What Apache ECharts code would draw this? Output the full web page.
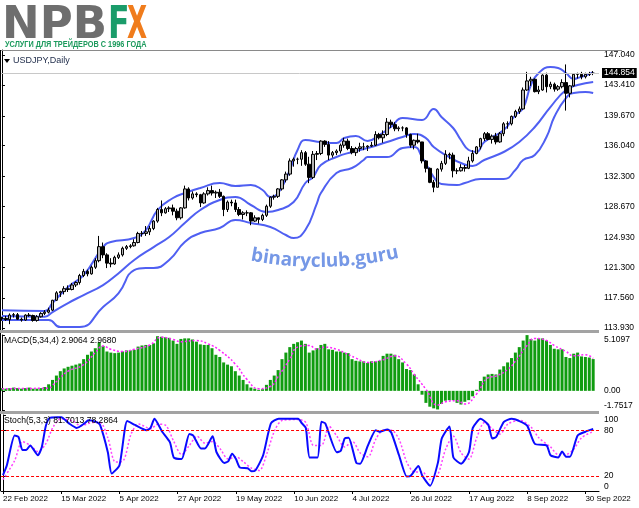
<!DOCTYPE html>
<html><head><meta charset="utf-8">
<script src="https://cdn.jsdelivr.net/npm/echarts@6/dist/echarts.min.js"></script>
<style>html,body{margin:0;padding:0;background:#fff}#c{width:639px;height:508px}</style>
</head><body><div id="c"></div>
<script>
// ---- tick labels ----
const priceTicks = [147.04, 143.41, 139.67, 136.04, 132.30, 128.67, 124.93, 121.30, 117.56, 113.93];
const macdTicks = [5.1097, 0, -1.7517];
const macdTickText = ['5.1097', '0.00', '-1.7517'];
const stochTicks = [100, 80, 20, 0];
const dateIdx = [0, 15, 30, 45, 60, 75, 90, 105, 120, 135, 150];
const dateText = ['22 Feb 2022', '15 Mar 2022', '5 Apr 2022', '27 Apr 2022', '19 May 2022', '10 Jun 2022',
  '4 Jul 2022', '26 Jul 2022', '17 Aug 2022', '8 Sep 2022', '30 Sep 2022'];
const barCount = 154; // 153 bars + right shift slot
const lastPrice = 144.854;
const macdLabel = 'MACD(5,34,4) 2.9064 2.9680';
const stochLabel = 'Stoch(5,3,3) 81.7013 78.2864';
const watermark = 'binaryclub.guru';

// ---- candles: [open, close, low, high] ----
const ohlc = [
[115.05,115.10,114.80,115.30],[115.10,114.95,114.80,115.40],[114.95,115.50,114.40,115.70],[115.50,115.55,115.20,115.75],
[115.55,115.00,114.90,115.75],[115.00,114.90,114.70,115.20],[114.90,115.50,114.80,115.60],[115.50,115.45,115.30,115.75],
[115.45,114.85,114.70,115.55],[114.85,115.30,114.70,115.50],[115.30,115.70,115.20,115.85],[115.70,115.85,115.50,116.10],
[115.85,116.10,115.70,116.40],[116.10,117.30,116.00,117.35],[117.30,118.20,117.20,118.40],[118.20,118.35,117.70,118.45],
[118.35,118.70,118.00,119.00],[118.70,118.60,118.30,119.10],[118.60,119.15,118.50,119.40],[119.15,119.45,118.90,119.60],
[119.45,120.30,119.20,120.50],[120.30,120.80,120.10,121.10],[120.80,120.50,120.20,121.00],[120.50,121.30,120.40,121.50],
[121.30,122.10,121.10,122.40],[122.10,123.80,121.90,125.10],[123.80,122.80,122.40,124.30],[122.80,121.80,121.20,123.00],
[121.80,121.70,121.30,122.40],[121.70,122.50,121.60,122.70],[122.50,122.80,122.30,123.10],[122.80,123.60,122.60,123.80],
[123.60,123.80,123.40,124.00],[123.80,123.90,123.60,124.10],[123.90,124.30,123.80,124.70],[124.30,125.40,124.20,125.60],
[125.40,125.40,125.00,125.70],[125.40,125.60,125.10,126.30],[125.60,126.00,125.20,126.30],[126.00,126.90,125.80,127.00],
[126.90,128.30,126.70,128.50],[128.30,127.90,127.50,129.40],[127.90,128.40,127.80,128.60],[128.40,128.50,128.00,128.70],
[128.50,128.10,127.60,128.90],[128.10,127.30,127.00,128.40],[127.30,128.50,127.10,128.60],[128.50,130.80,128.40,131.20],
[130.80,129.70,129.40,131.00],[129.70,130.20,129.50,130.50],[130.20,130.10,129.80,130.40],[130.10,129.10,128.60,130.20],
[129.10,130.20,129.00,130.40],[130.20,130.60,130.00,131.00],[130.60,130.30,130.00,131.20],[130.30,130.40,129.70,130.60],
[130.40,129.90,129.70,130.80],[129.90,128.30,127.50,130.00],[128.30,129.20,128.00,129.40],[129.20,129.10,128.70,129.50],
[129.10,128.30,128.00,129.50],[128.30,127.70,127.50,128.60],[127.70,127.90,127.10,128.10],[127.90,127.90,127.50,128.20],
[127.90,126.90,126.40,128.00],[126.90,127.30,126.80,127.60],[127.30,127.10,126.60,127.30],[127.10,127.60,126.90,127.80],
[127.60,128.70,127.40,128.90],[128.70,129.80,128.50,129.90],[129.80,129.90,129.50,130.10],[129.90,130.80,129.70,130.90],
[130.80,131.90,130.60,132.00],[131.90,132.60,131.60,132.90],[132.60,134.20,132.40,134.50],[134.20,134.40,133.50,134.60],
[134.40,134.40,133.80,134.60],[134.40,135.20,133.60,135.50],[135.20,133.80,133.60,135.40],[133.80,132.20,131.50,134.70],
[132.20,135.00,132.00,135.40],[135.00,135.10,134.30,135.40],[135.10,136.60,134.90,136.70],[136.60,136.20,135.90,136.70],
[136.20,134.90,134.30,136.60],[134.90,135.20,134.60,135.40],[135.20,135.40,134.90,135.60],[135.40,136.10,135.10,136.30],
[136.10,136.60,135.80,137.00],[136.60,135.70,135.50,136.90],[135.70,135.20,135.00,136.00],[135.20,135.70,134.80,135.90],
[135.70,135.90,135.30,136.40],[135.90,135.90,135.50,136.40],[135.90,136.00,135.40,136.10],[136.00,136.10,135.90,136.50],
[136.10,137.40,136.00,137.80],[137.40,137.00,136.80,137.60],[137.00,137.40,136.40,137.90],[137.40,138.90,137.20,139.40],
[138.90,138.60,138.20,139.20],[138.60,138.10,137.80,138.90],[138.10,138.20,137.80,138.40],[138.20,138.20,137.80,138.40],
[138.20,137.40,137.00,138.30],[137.40,136.10,135.80,137.50],[136.10,136.70,135.60,136.80],[136.70,136.50,136.30,137.50],
[136.50,134.20,133.90,136.50],[134.20,133.30,132.80,134.30],[133.30,131.60,131.50,133.40],[131.60,131.00,130.40,131.90],
[131.00,133.20,131.00,133.30],[133.20,133.90,132.90,134.20],[133.90,135.00,133.70,135.50],[135.00,134.90,134.40,135.20],
[134.90,133.00,132.20,135.20],[133.00,133.00,132.60,133.30],[133.00,133.40,132.90,133.80],[133.40,133.30,132.90,133.70],
[133.30,134.20,133.20,134.70],[134.20,135.10,134.00,135.50],[135.10,135.90,135.00,136.00],[135.90,136.90,135.60,137.00],
[136.90,137.50,136.60,137.70],[137.50,136.80,136.70,137.70],[136.80,137.20,136.30,137.40],[137.20,136.50,136.20,137.60],
[136.50,137.50,136.40,137.70],[137.50,138.70,137.20,138.90],[138.70,138.70,138.10,139.00],[138.70,139.60,138.50,139.70],
[139.60,140.20,139.40,140.40],[140.20,140.50,139.90,140.80],[140.50,142.80,140.40,143.10],[142.80,143.90,142.70,145.00],
[143.90,144.10,143.30,144.40],[144.10,142.60,142.50,144.20],[142.60,142.80,142.30,143.30],[142.80,144.60,142.70,144.70],
[144.60,143.20,142.50,144.90],[143.20,143.50,142.90,143.80],[143.50,142.90,142.60,143.70],[142.90,143.20,142.70,143.40],
[143.20,143.70,143.00,144.10],[143.70,142.40,140.30,145.90],[142.40,143.30,141.90,143.40],[143.30,144.70,143.20,144.80],
[144.70,144.70,144.20,144.90],[144.70,144.40,144.10,145.00],[144.40,144.70,144.20,144.90],[144.70,144.80,144.50,145.00],
[144.80,144.85,144.60,145.10]
];

// ---- Bollinger bands: [bar index, price] ----
const bbUpper = [[0,116.1],[11,116.0],[13,116.96],[17,118.9],[21,120.36],[26,123.75],[28,124.36],[34,124.84],[37,125.81],
[40,128.24],[44,129.7],[47,130.3],[51,130.91],[56,131.51],[60,131.15],[64,131.27],[67,130.67],[69,129.82],[71,130.3],
[74,133.09],[76,135.52],[78,136.73],[82,136.49],[86,136.37],[88,136.97],[91,137.22],[94,136.61],[97,137.34],[100,138.31],
[103,139.4],[108,139.16],[111,140.49],[113,139.52],[116,138.19],[118,136.73],[120,135.52],[122,135.28],[124,136.49],
[129,137.94],[132,139.76],[134,140.61],[136,143.4],[138,144.86],[141,145.58],[143,145.46],[145,144.86],[147,144.13],
[148,144.25],[151,144.74],[152,144.98]];
const bbMiddle = [[0,115.4],[11,115.3],[13,115.87],[17,116.96],[21,117.93],[26,119.14],[30,120.58],[34,122.18],[39,123.75],
[43,124.97],[47,126.66],[51,128.24],[56,129.46],[60,129.82],[64,128.85],[68,128.0],[71,128.24],[75,129.21],[78,131.52],
[80,132.24],[82,133.7],[86,134.67],[90,135.28],[94,135.76],[99,136.49],[103,137.1],[106,137.46],[109,136.97],[111,135.88],
[115,134.67],[118,133.94],[121,133.58],[124,134.31],[129,135.28],[133,136.49],[137,138.31],[141,140.73],[145,142.79],
[148,143.4],[152,143.77]];
const bbLower = [[0,114.9],[12,114.9],[15,114.05],[20,114.05],[26,116.48],[30,118.17],[34,120.96],[37,121.21],[39,121.21],
[43,122.18],[47,124.36],[51,125.45],[56,126.06],[60,127.03],[64,126.66],[69,126.18],[73,125.21],[75,124.84],[78,125.82],
[81,129.09],[82,130.3],[86,132.73],[90,133.34],[93,134.31],[94,134.67],[99,134.67],[103,135.76],[106,135.88],[108,134.67],
[111,132.24],[113,131.4],[117,131.27],[119,131.52],[123,132.0],[129,132.0],[132,133.09],[134,134.31],[137,134.91],
[140,137.1],[142,139.52],[145,141.82],[147,142.43],[150,142.55],[152,142.43]];

// ---- MACD histogram (per bar) ----
const macdHist = [0.25,0.2,0.25,0.3,0.25,0.2,0.25,0.3,0.2,0.2,0.25,0.35,0.6,1.0,1.4,1.8,2.05,2.2,2.3,2.4,
2.5,2.9,3.3,3.6,3.9,4.45,4.1,3.6,3.5,3.45,3.5,3.6,3.7,3.7,3.75,4.05,4.15,4.2,4.2,4.35,
5.0,4.95,4.9,4.85,4.6,4.3,4.75,4.8,4.8,4.7,4.5,4.25,4.2,4.2,3.9,3.3,3.1,2.6,2.4,2.25,
1.8,1.4,1.0,0.6,0.3,0.2,0.1,0.15,0.55,1.0,1.4,1.9,2.9,3.5,4.0,4.3,4.45,4.6,4.3,3.5,
3.7,3.9,4.2,4.3,3.8,3.75,3.6,3.6,3.5,3.45,2.9,2.75,2.7,2.7,2.55,2.7,2.7,2.75,3.2,3.4,
3.4,3.3,2.9,2.6,2.0,1.9,1.5,0.6,-0.35,-1.1,-1.45,-1.6,-1.7,-1.2,-0.9,-0.85,-0.85,-1.1,-1.25,-1.0,
-0.85,-0.5,0.1,0.9,1.3,1.5,1.55,1.5,1.95,2.25,2.6,3.0,3.5,4.0,4.6,5.1,4.75,4.6,4.8,4.8,
4.6,4.2,3.85,3.8,3.8,3.1,3.0,3.4,3.5,3.15,3.1,3.05,2.9064];
const macdSignal = [[0,0.2],[12,0.25],[13,0.5],[15,1.2],[17,1.8],[21,2.4],[24,3.5],[26,4.1],[28,3.8],[31,3.6],[34,3.8],
[38,4.2],[41,4.9],[44,4.7],[46,4.5],[50,4.6],[53,4.3],[56,3.7],[60,2.45],[63,1.05],[66,0.2],[69,0.4],[71,1.3],[74,2.9],
[76,4.0],[79,4.15],[81,3.8],[83,4.0],[86,3.8],[88,3.5],[91,3.0],[94,2.6],[98,2.85],[101,3.2],[104,2.45],[106,1.5],
[109,0.15],[112,-1.3],[114,-1.0],[117,-0.9],[119,-1.2],[122,-0.3],[125,1.2],[127,1.35],[130,1.95],[132,2.7],[135,4.15],
[137,4.8],[140,4.6],[142,4.15],[145,3.6],[147,3.2],[150,3.3],[152,2.968]];

// ---- Stochastic ----
const stochMain = [[0,21],[1,34],[3,73],[4,71],[5,54],[6,54],[7,60],[9,47],[10,58],[11,85],[12,96],[14,97],[15,97],[17,89],
[19,83],[21,89],[22,93],[24,91],[25,87],[27,51],[28,23],[30,34],[32,92],[34,87],[37,80],[38,83],[39,95],[41,78],[43,64],
[44,44],[46,42],[48,75],[49,73],[51,56],[52,56],[54,72],[55,51],[57,37],[58,39],[59,49],[60,42],[61,31],[63,30],[64,26],
[65,27],[67,47],[69,89],[71,95],[76,95],[77,89],[78,83],[79,44],[81,44],[82,91],[83,89],[86,51],[87,53],[88,69],[89,70],
[91,37],[92,36],[94,60],[96,80],[97,78],[99,81],[100,77],[102,47],[104,19],[105,20],[107,33],[108,20],[110,7],[112,37],
[113,69],[115,85],[116,44],[118,36],[120,51],[121,83],[123,95],[125,87],[126,69],[127,71],[129,91],[131,95],[133,92],
[135,86],[137,62],[140,60],[141,47],[143,44],[144,52],[145,45],[146,45],[148,73],[150,78],[152,81.7]];
const stochSignal = [[0,15],[3,40],[5,65],[7,60],[9,52],[11,62],[13,85],[15,95],[18,92],[20,86],[23,90],[25,90],[27,70],
[29,38],[31,40],[33,75],[35,88],[38,82],[40,88],[42,86],[44,65],[46,48],[48,60],[50,72],[52,63],[54,65],[56,55],[58,42],
[60,45],[62,38],[64,30],[66,27],[68,50],[70,80],[72,93],[76,94],[78,90],[80,60],[82,60],[84,85],[86,72],[88,58],[90,65],
[92,50],[94,45],[96,68],[98,80],[100,80],[102,68],[104,38],[106,25],[108,25],[110,15],[112,22],[114,55],[116,72],[118,50],
[120,42],[122,70],[124,90],[126,82],[128,75],[130,88],[133,93],[136,84],[138,70],[141,58],[143,48],[145,48],[147,55],
[149,70],[152,78.3]];

// ---------------- chart ----------------
const FONT = "'Liberation Sans',Arial,sans-serif";
const cats = Array.from({length: barCount}, (_, i) => String(i));
const chart = echarts.init(document.getElementById('c'), null, {renderer: 'canvas'});
const hiddenCat = g => ({type: 'category', gridIndex: g, data: cats, show: false});
const hiddenVal = g => ({type: 'value', gridIndex: g, min: -0.5, max: barCount - 0.5, show: false});
const labelBase = {fontFamily: FONT, fontSize: 8.5, color: '#000'};

// watermark characters laid on a shallow arc
const wmFont = 'bold 19px "Open Sans"';
const mctx = document.createElement('canvas').getContext('2d');
mctx.font = wmFont;
const wmWidths = watermark.split('').map(ch => mctx.measureText(ch).width);
const wmTotal = wmWidths.reduce((a, b) => a + b, 0);
const wmCx = 325, wmLowX = 318, wmBase = 271, wmR = 360;
let acc = wmCx - wmTotal / 2;
const wmGraphics = watermark.split('').map((ch, k) => {
  const cx = acc + wmWidths[k] / 2; acc += wmWidths[k];
  const dx = cx - wmLowX;
  const by = wmBase - dx * dx / (2 * wmR);
  return {type: 'text', x: cx, y: by, rotation: Math.atan(dx / wmR), z: 1,
    style: {text: ch, fill: '#7698e6', font: wmFont, align: 'center', verticalAlign: 'bottom'}};
});

const option = {
  animation: false,
  backgroundColor: '#fff',
  grid: [
    {left: 0, top: 50, width: 599, height: 280},
    {left: 0, top: 335, width: 599, height: 75},
    {left: 0, top: 415, width: 599, height: 76}
  ],
  xAxis: [
    hiddenCat(0), hiddenCat(1),
    {type: 'category', gridIndex: 2, data: cats,
     axisLine: {lineStyle: {color: '#000', width: 1}},
     axisTick: {show: true, length: 3, alignWithLabel: true, interval: (i) => dateIdx.includes(i), lineStyle: {color: '#000'}},
     axisLabel: {interval: (i) => dateIdx.includes(i), formatter: (v, i) => dateText[dateIdx.indexOf(i)] || '',
       align: 'left', margin: 4, fontFamily: FONT, fontSize: 8, color: '#000'}},
    hiddenVal(0), hiddenVal(1), hiddenVal(2)
  ],
  yAxis: [
    {type: 'value', gridIndex: 0, position: 'right', min: 113.69, max: 147.65,
     axisLine: {show: true, lineStyle: {color: '#000'}},
     axisTick: {show: true, length: 3, customValues: priceTicks, lineStyle: {color: '#000'}},
     axisLabel: {customValues: priceTicks, formatter: v => v.toFixed(3), margin: 5, showMinLabel: true, showMaxLabel: true, ...labelBase},
     splitLine: {show: false}},
    {type: 'value', gridIndex: 1, position: 'right', min: -1.7517, max: 5.1097,
     axisLine: {show: true, lineStyle: {color: '#000'}},
     axisTick: {show: true, length: 3, customValues: macdTicks, lineStyle: {color: '#000'}},
     axisLabel: {customValues: macdTicks, margin: 5, showMinLabel: true, showMaxLabel: true, ...labelBase,
       verticalAlignMaxLabel: 'bottom', verticalAlignMinLabel: 'top',
       formatter: v => macdTickText[macdTicks.findIndex(t => Math.abs(t - v) < 1e-6)]},
     splitLine: {show: false}},
    {type: 'value', gridIndex: 2, position: 'right', min: 0, max: 100,
     axisLine: {show: true, lineStyle: {color: '#000'}},
     axisTick: {show: true, length: 3, customValues: stochTicks, lineStyle: {color: '#000'}},
     axisLabel: {customValues: stochTicks, margin: 5, showMinLabel: true, showMaxLabel: true, ...labelBase,
       verticalAlignMaxLabel: 'bottom', verticalAlignMinLabel: 'top', formatter: v => String(v)},
     splitLine: {show: false}}
  ],
  series: [
    {type: 'candlestick', xAxisIndex: 0, yAxisIndex: 0, data: ohlc, barWidth: 3,
     itemStyle: {color: '#b4b4b4', color0: '#000', borderColor: '#000', borderColor0: '#000', borderWidth: 1},
     markLine: {silent: true, symbol: 'none', animation: false,
       lineStyle: {color: '#c8c8c8', type: 'solid', width: 1},
       label: {show: true, position: 'end', formatter: lastPrice.toFixed(3), backgroundColor: '#000', color: '#fff',
         padding: [1, 2, 0, 2], distance: 3, fontFamily: FONT, fontSize: 8.5},
       data: [{yAxis: lastPrice}]}, z: 3},
    {type: 'line', xAxisIndex: 3, yAxisIndex: 0, data: bbUpper, smooth: true, symbol: 'none', lineStyle: {color: '#4f5ff2', width: 2}, z: 2},
    {type: 'line', xAxisIndex: 3, yAxisIndex: 0, data: bbMiddle, smooth: true, symbol: 'none', lineStyle: {color: '#4f5ff2', width: 2}, z: 2},
    {type: 'line', xAxisIndex: 3, yAxisIndex: 0, data: bbLower, smooth: true, symbol: 'none', lineStyle: {color: '#4f5ff2', width: 2}, z: 2},
    {type: 'bar', xAxisIndex: 1, yAxisIndex: 1, data: macdHist, barWidth: 3, itemStyle: {color: '#109c10'}},
    {type: 'line', xAxisIndex: 4, yAxisIndex: 1, data: macdSignal, smooth: true, symbol: 'none',
     lineStyle: {color: '#ff22ff', width: 1.5, type: [2, 2]}, z: 3},
    {type: 'line', xAxisIndex: 5, yAxisIndex: 2, data: stochSignal, smooth: 0.3, symbol: 'none',
     lineStyle: {color: '#ff44ff', width: 1.5, type: [2, 2]}, z: 2},
    {type: 'line', xAxisIndex: 5, yAxisIndex: 2, data: stochMain, smooth: 0.2, symbol: 'none',
     lineStyle: {color: '#0a0aff', width: 2}, z: 3,
     markLine: {silent: true, symbol: 'none', animation: false, label: {show: false},
       lineStyle: {color: '#ff0000', width: 1, type: [3, 2]}, data: [{yAxis: 80}, {yAxis: 20}]}}
  ],
  graphic: [
    // logo
    {type: 'text', x: 2, y: 26, style: {text: 'NPB', fill: '#6e6e6e', font: 'bold 45px "DejaVu Sans"', verticalAlign: 'middle'}},
    {type: 'text', x: 108, y: 26, scaleX: 0.7, style: {text: 'F', fill: '#1a9c6a', font: 'bold 45px "DejaVu Sans"', verticalAlign: 'middle'}},
    {type: 'text', x: 127, y: 26, scaleX: 0.58, style: {text: 'X', fill: '#f07c1c', font: 'bold 45px "DejaVu Sans"', verticalAlign: 'middle'}},
    {type: 'text', x: 5, y: 44, scaleX: 0.77, style: {text: 'УСЛУГИ ДЛЯ ТРЕЙДЕРОВ С 1996 ГОДА', fill: '#1b9a5c',
      font: 'bold 9.5px "Liberation Sans"', verticalAlign: 'middle'}},
    // frame
    {type: 'line', shape: {x1: 0, y1: 50.5, x2: 622, y2: 50.5}, style: {stroke: '#8a8a8a', lineWidth: 1}, z: 10},
    {type: 'line', shape: {x1: 0.5, y1: 50, x2: 0.5, y2: 491}, style: {stroke: '#000', lineWidth: 1}, z: 10},
    {type: 'rect', shape: {x: 0, y: 330, width: 599, height: 3}, style: {fill: '#a3a3a3'}, z: 10},
    {type: 'rect', shape: {x: 0, y: 411, width: 599, height: 3}, style: {fill: '#a3a3a3'}, z: 10},
    // panel titles
    {type: 'polygon', shape: {points: [[4, 59], [10, 59], [7, 63]]}, style: {fill: '#000'}, z: 10},
    {type: 'text', x: 13, y: 61, style: {text: 'USDJPY,Daily', fill: '#1d2a48', font: '9px ' + FONT, verticalAlign: 'middle'}, z: 10},
    {type: 'text', x: 4, y: 341, style: {text: macdLabel, fill: '#000', font: '8.6px ' + FONT, verticalAlign: 'middle'}, z: 10},
    {type: 'text', x: 4, y: 421, style: {text: stochLabel, fill: '#000', font: '8.6px ' + FONT, verticalAlign: 'middle'}, z: 10}
  ].concat(wmGraphics)
};
chart.setOption(option);
</script></body></html>
